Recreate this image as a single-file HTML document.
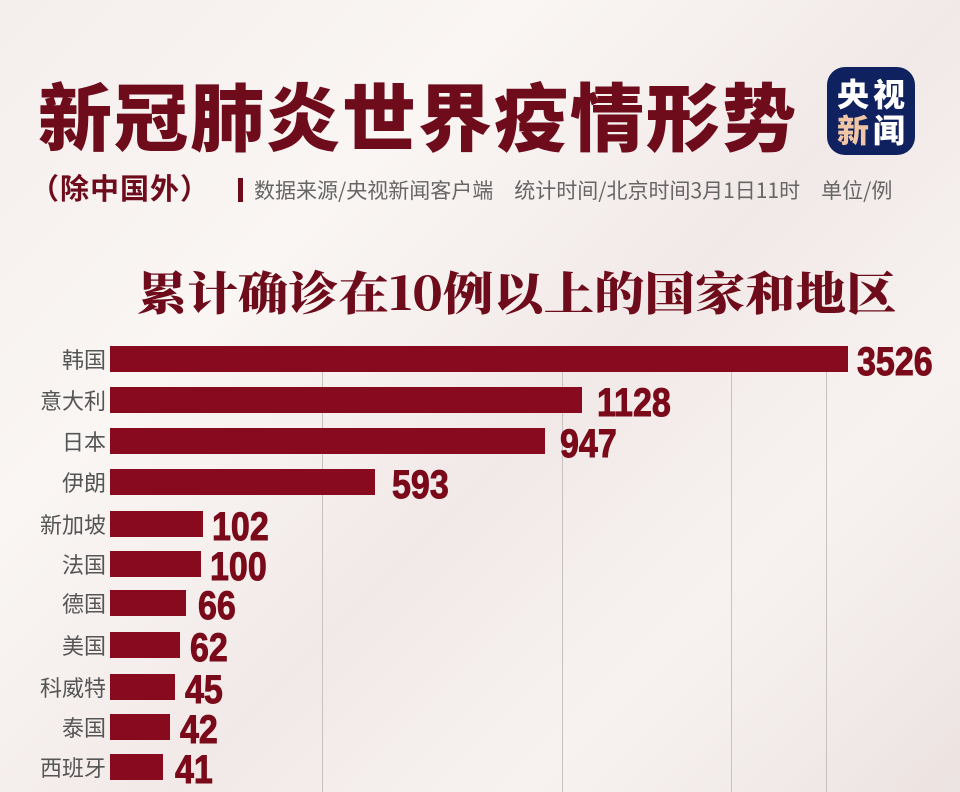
<!DOCTYPE html>
<html><head><meta charset="utf-8"><style>
body{margin:0;}
#c{position:relative;width:960px;height:792px;overflow:hidden;
background:linear-gradient(135deg,#f4eeec 0%,#faf6f4 30%,#f1e9e7 55%,#f7f2f0 75%,#ece3e1 100%);
font-family:"Liberation Sans","Noto Sans CJK SC",sans-serif;}
.t{position:absolute;white-space:nowrap;}
.title{left:38px;top:60px;font-size:74px;font-weight:900;color:#6e0c1c;letter-spacing:2px;font-family:"Noto Sans CJK SC",sans-serif;}
.logo{position:absolute;left:827px;top:67px;width:88px;height:88px;border-radius:18px;background:#10215f;}
.logo span{position:absolute;font-size:32px;font-weight:900;font-family:"Noto Sans CJK SC",sans-serif;line-height:36px;color:#fff;}
.sub{left:30px;top:166px;font-size:29px;font-weight:700;color:#6e0c1c;font-family:"Noto Sans CJK SC",sans-serif;letter-spacing:1px;}
.src{left:254px;top:175px;font-size:21px;color:#666;font-family:"Noto Sans CJK SC",sans-serif;transform:scaleX(1.0);transform-origin:left;}
.h2{left:137px;top:258px;font-size:46px;font-weight:900;color:#6e0c1c;font-family:"Noto Serif CJK SC","Noto Sans CJK SC",serif;transform:scaleX(1.095);transform-origin:left;}
.grid{position:absolute;top:372px;width:1px;height:420px;background:#c9c0c0;}
.bar{position:absolute;left:110px;height:26px;background:#870a1e;}
.lab{position:absolute;right:854px;font-size:22px;color:#555;font-family:"Noto Sans CJK SC",sans-serif;line-height:26px;white-space:nowrap;}
.num{position:absolute;font-size:40px;font-weight:700;color:#7a0a1a;font-family:"Liberation Sans Narrow","Liberation Sans",sans-serif;line-height:26px;transform:scaleX(0.85);transform-origin:left;-webkit-text-stroke:1px #7a0a1a;}
</style></head><body><div id="c">
<div class="t title">新冠肺炎世界疫情形势</div>
<div class="logo"><span style="left:10px;top:8px">央</span><span style="left:46px;top:8px">视</span><span style="left:10px;top:44px;color:#f0c6a6">新</span><span style="left:46px;top:44px">闻</span></div>
<div class="t sub">（除中国外）</div>
<div style="position:absolute;left:238px;top:178px;width:5px;height:24px;background:#6e0c1c"></div>
<div class="t src">数据来源/央视新闻客户端　统计时间/北京时间3月1日11时　单位/例</div>
<div class="t h2">累计确诊在10例以上的国家和地区</div>
<div class="grid" style="left:322px"></div>
<div class="grid" style="left:562px"></div>
<div class="grid" style="left:731px"></div>
<div class="grid" style="left:826px"></div>

<div class="lab" style="top:346px">韩国</div><div class="bar" style="top:346px;width:738px"></div><div class="num" style="left:857px;top:349px">3526</div>
<div class="lab" style="top:387px">意大利</div><div class="bar" style="top:387px;width:472px"></div><div class="num" style="left:597px;top:390px">1128</div>
<div class="lab" style="top:428px">日本</div><div class="bar" style="top:428px;width:435px"></div><div class="num" style="left:560px;top:431px">947</div>
<div class="lab" style="top:469px">伊朗</div><div class="bar" style="top:469px;width:265px"></div><div class="num" style="left:392px;top:472px">593</div>
<div class="lab" style="top:511px">新加坡</div><div class="bar" style="top:511px;width:93px"></div><div class="num" style="left:212px;top:514px">102</div>
<div class="lab" style="top:551px">法国</div><div class="bar" style="top:551px;width:91px"></div><div class="num" style="left:210px;top:554px">100</div>
<div class="lab" style="top:590px">德国</div><div class="bar" style="top:590px;width:76px"></div><div class="num" style="left:198px;top:593px">66</div>
<div class="lab" style="top:632px">美国</div><div class="bar" style="top:632px;width:70px"></div><div class="num" style="left:190px;top:635px">62</div>
<div class="lab" style="top:674px">科威特</div><div class="bar" style="top:674px;width:65px"></div><div class="num" style="left:185px;top:677px">45</div>
<div class="lab" style="top:714px">泰国</div><div class="bar" style="top:714px;width:60px"></div><div class="num" style="left:180px;top:717px">42</div>
<div class="lab" style="top:754px">西班牙</div><div class="bar" style="top:754px;width:53px"></div><div class="num" style="left:175px;top:757px">41</div>
</div></body></html>
